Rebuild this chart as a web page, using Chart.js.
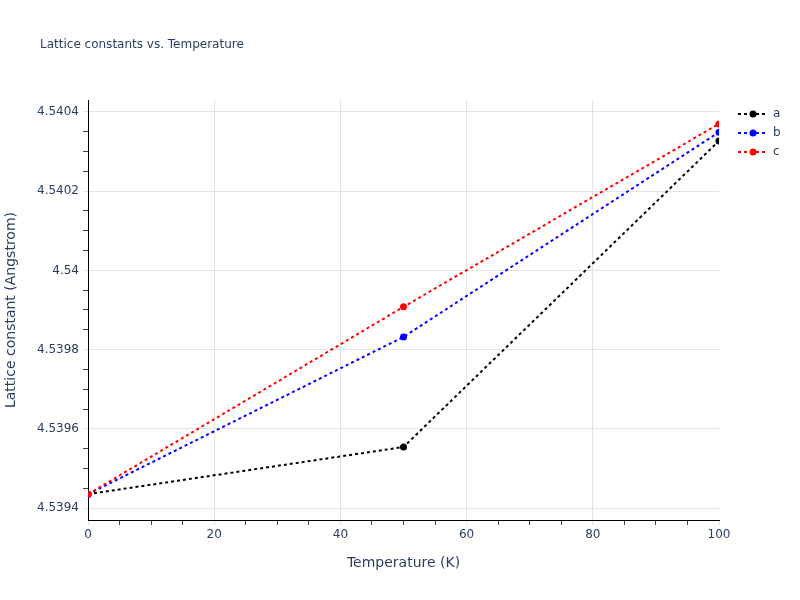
<!DOCTYPE html>
<html>
<head>
<meta charset="utf-8">
<script src="https://cdn.jsdelivr.net/npm/chart.js"></script>
<style>
  html, body { margin: 0; padding: 0; background: #fff; }
  #wrap { width: 800px; height: 600px; }
</style>
</head>
<body>
<div id="wrap"><canvas id="latticeChart"></canvas></div>
<script>
const temperatures = [0, 50, 100];
const latticeA = [4.539435, 4.539554, 4.540327];
const latticeB = [4.539435, 4.539832, 4.540349];
const latticeC = [4.539435, 4.539908, 4.540370];
const seriesNames = ["a", "b", "c"];
const seriesColors = ["#000000", "#0000ff", "#ff0000"];
const yMajorTicks = [4.5394, 4.5396, 4.5398, 4.54, 4.5402, 4.5404];
const xMajorTicks = [0, 20, 40, 60, 80, 100];
const yMinorStep = 0.00005;
const xMinorStep = 5;

const textColor = "#2a3f5f";
const gridColor = "#e3e3e3";
const minorTickColor = "#444444";
const fontFamily = "'DejaVu Sans', Verdana, sans-serif";

Chart.defaults.font.family = fontFamily;
Chart.defaults.color = textColor;

const isMajor = (list, v) => list.some((m) => Math.abs(m - v) < 1e-9);

// ticks every minor step, labels only on the major ones
function buildTicks(majors, step, digits) {
  const first = majors[0];
  const last = majors[majors.length - 1];
  const n = Math.round((last - first) / step);
  const out = [];
  for (let i = 0; i <= n; i++) {
    out.push({ value: +(first + i * step).toFixed(digits) });
  }
  return out;
}

const series = [latticeA, latticeB, latticeC];
const datasets = series.map((vals, i) => ({
  label: seriesNames[i],
  data: temperatures.map((t, j) => ({ x: t, y: vals[j] })),
  borderColor: seriesColors[i],
  backgroundColor: seriesColors[i],
  borderWidth: 2,
  borderDash: [3, 3],
  pointRadius: 3.5,
  pointBorderWidth: 0,
  pointBackgroundColor: seriesColors[i],
  tension: 0,
  fill: false,
  order: series.length - i,
}));

const titleAndLegend = {
  id: "titleAndLegend",
  afterDraw(chart) {
    const ctx = chart.ctx;
    ctx.save();
    ctx.fillStyle = textColor;
    ctx.textBaseline = "middle";
    ctx.font = "12px " + fontFamily;
    ctx.fillText("Lattice constants vs. Temperature", 40, 45);

    chart.data.datasets.forEach((ds, i) => {
      const y = 114 + i * 19;
      ctx.strokeStyle = ds.borderColor;
      ctx.lineWidth = 2;
      ctx.setLineDash([3, 3]);
      ctx.beginPath();
      ctx.moveTo(738, y);
      ctx.lineTo(768, y);
      ctx.stroke();
      ctx.setLineDash([]);
      ctx.fillStyle = ds.borderColor;
      ctx.beginPath();
      ctx.arc(753, y, 3.5, 0, Math.PI * 2);
      ctx.fill();
      ctx.fillStyle = textColor;
      ctx.fillText(ds.label, 773, y);
    });
    ctx.restore();
  },
};

new Chart(document.getElementById("latticeChart"), {
  type: "line",
  data: { datasets },
  plugins: [titleAndLegend],
  options: {
    responsive: true,
    maintainAspectRatio: false,
    animation: false,
    layout: { padding: { top: 100, right: 81, bottom: 0, left: 0 } },
    plugins: {
      legend: { display: false },
      tooltip: { enabled: false },
      title: { display: false },
    },
    scales: {
      x: {
        type: "linear",
        min: 0,
        max: 100,
        afterFit(scale) { scale.height = 80; },
        afterBuildTicks(scale) { scale.ticks = buildTicks(xMajorTicks, xMinorStep, 0); },
        border: { display: true, color: "#000000", width: 1 },
        grid: {
          tickLength: 5,
          color: (c) => {
            const v = c.tick ? c.tick.value : null;
            if (v === null || v === 0 || v === 100) return "rgba(0,0,0,0)";
            return isMajor(xMajorTicks, v) ? gridColor : "rgba(0,0,0,0)";
          },
          tickColor: (c) => (c.tick && isMajor(xMajorTicks, c.tick.value) ? gridColor : minorTickColor),
        },
        ticks: {
          autoSkip: false,
          maxRotation: 0,
          padding: 3,
          font: { size: 12 },
          callback: (v) => (isMajor(xMajorTicks, v) ? String(v) : ""),
        },
        title: {
          display: true,
          text: "Temperature (K)",
          font: { size: 14 },
          padding: { top: 0, bottom: 28 },
        },
      },
      y: {
        min: 4.5393697,
        max: 4.5404303,
        afterFit(scale) { scale.width = 88; },
        afterBuildTicks(scale) { scale.ticks = buildTicks(yMajorTicks, yMinorStep, 6); },
        border: { display: true, color: "#000000", width: 1 },
        grid: {
          tickLength: 5,
          color: (c) => (c.tick && isMajor(yMajorTicks, c.tick.value) ? gridColor : "rgba(0,0,0,0)"),
          tickColor: (c) => (c.tick && isMajor(yMajorTicks, c.tick.value) ? gridColor : minorTickColor),
        },
        ticks: {
          autoSkip: false,
          padding: 4,
          font: { size: 12 },
          callback: (v) => (isMajor(yMajorTicks, v) ? String(Number(v.toFixed(4))) : ""),
        },
        title: {
          display: true,
          text: "Lattice constant (Angstrom)",
          font: { size: 14 },
          padding: { top: 3, bottom: 0 },
        },
      },
    },
  },
});
</script>
</body>
</html>
